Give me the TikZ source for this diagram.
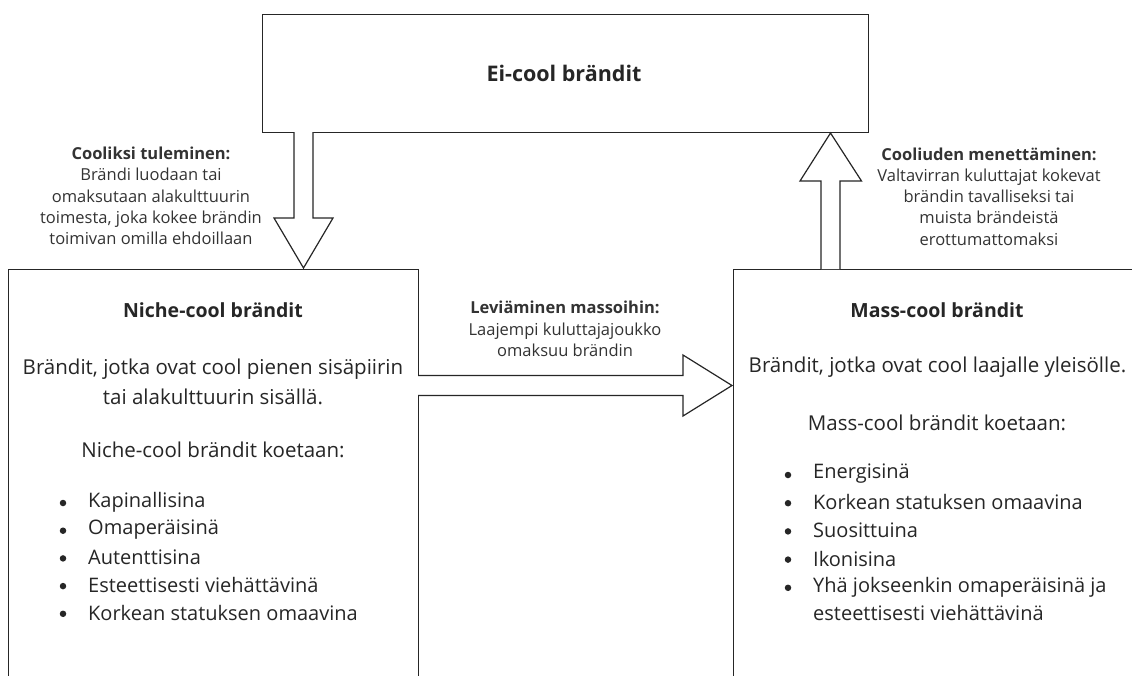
\documentclass[tikz,border=0pt]{standalone}
\usepackage{fontspec}
\setmainfont{Open Sans}
\usetikzlibrary{calc}
\tikzset{
  box/.style={draw=black!85, line width=1.2pt, fill=white, rectangle, inner sep=0pt, anchor=north west},
  blk/.style={draw=black!85, line width=1.2pt, fill=white, line join=miter},
  lbl/.style={align=center, font=\fontsize{16.5}{21.3}\selectfont, text=black!80, inner sep=0pt},
  ttl/.style={font=\fontsize{19.5}{22}\bfseries\selectfont, text=black!85, inner sep=0pt},
  body/.style={align=center, font=\fontsize{20.5}{30}\selectfont, text=black!85, inner sep=0pt},
  itm/.style={anchor=west, font=\fontsize{20}{27}\selectfont, text=black!85, inner sep=0pt},
  dot/.style={circle, fill=black!85, minimum size=6.5pt, inner sep=0pt}
}
\begin{document}
\begin{tikzpicture}[x=1pt,y=-1pt]
\useasboundingbox (0,0) rectangle (1132,675);
\clip (0,0) rectangle (1132,675);
% boxes
\node[box, minimum width=606pt, minimum height=118pt] (ei) at (262,14) {};
\node[ttl, font=\fontsize{21.5}{24}\bfseries\selectfont] (eit) at (564,73) {Ei-cool brändit};
\node[box, minimum width=410pt, minimum height=430pt] (niche) at (8,269) {};
\node[box, minimum width=430pt, minimum height=430pt] (mass) at (733,269) {};
% arrows
\coordinate (dtip) at (303.5,268);
\draw[blk] ($(dtip)+(-9.5,-136)$) -- ($(dtip)+(-9.5,-50)$) -- ($(dtip)+(-29.5,-50)$) -- (dtip)
  -- ($(dtip)+(29.5,-50)$) -- ($(dtip)+(9.5,-50)$) -- ($(dtip)+(9.5,-136)$);
\coordinate (utip) at (830.5,133);
\draw[blk] ($(utip)+(-9.5,136)$) -- ($(utip)+(-9.5,48)$) -- ($(utip)+(-30.5,48)$) -- (utip)
  -- ($(utip)+(31,48)$) -- ($(utip)+(9.5,48)$) -- ($(utip)+(9.5,136)$);
\coordinate (rtip) at (732,385.5);
\draw[blk] ($(rtip)+(-314,-10)$) -- ($(rtip)+(-49,-10)$) -- ($(rtip)+(-49,-30.5)$) -- (rtip)
  -- ($(rtip)+(-49,30.5)$) -- ($(rtip)+(-49,10)$) -- ($(rtip)+(-314,10)$);
% arrow labels
\node[lbl] (l1) at (151,196) {\textbf{Cooliksi tuleminen:}\\Brändi luodaan tai\\omaksutaan alakulttuurin\\toimesta, joka kokee brändin\\toimivan omilla ehdoillaan};
\node[lbl] (l2) at (989,196.5) {\textbf{Cooliuden menettäminen:}\\Valtavirran kuluttajat kokevat\\brändin tavalliseksi tai\\muista brändeistä\\erottumattomaksi};
\node[lbl] (l3) at (565,329) {\textbf{Leviäminen massoihin:}\\Laajempi kuluttajajoukko\\omaksuu brändin};
% left box content
\node[ttl] (nt) at (213,310) {Niche-cool brändit};
\node[body] (nb) at (213,382) {Brändit, jotka ovat cool pienen sisäpiirin\\tai alakulttuurin sisällä.};
\node[body] (nk) at (213,450) {Niche-cool brändit koetaan:};
\foreach \t [count=\i] in {Kapinallisina,Omaperäisinä,Autenttisina,Esteettisesti viehättävinä,Korkean statuksen omaavina}{
  \node[dot] (nd\i) at (63,{503+27.7*(\i-1)}) {};
  \node[itm] (ni\i) at (88,{502+27.7*(\i-1)}) {\t};
}
% right box content
\node[ttl] (mt) at (937,310) {Mass-cool brändit};
\node[body] (mb) at (937.5,367) {Brändit, jotka ovat cool laajalle yleisölle.};
\node[body] (mk) at (937,423) {Mass-cool brändit koetaan:};
\foreach \t [count=\i] in {Energisinä,Korkean statuksen omaavina,Suosittuina,Ikonisina,Yhä jokseenkin omaperäisinä ja}{
  \node[dot] (md\i) at (788,{475+28.2*(\i-1)}) {};
  \node[itm] (mi\i) at (813,{474+28.2*(\i-1)}) {\t};
}
\node[itm] (mi6) at (813,613) {esteettisesti viehättävinä};
\end{tikzpicture}
\end{document}
